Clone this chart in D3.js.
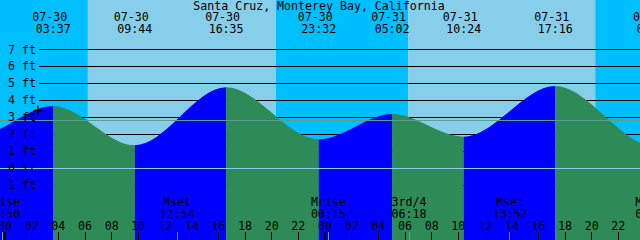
<!DOCTYPE html>
<meta charset="utf-8">
<title>Santa Cruz tides</title>
<style>

body {
  margin: 0;
  background: #fff;
}

svg {
  display: block;
  font: 11.6px "DejaVu Sans Mono", monospace;
}

.level line {
  stroke: #000;
  shape-rendering: crispEdges;
}

.hour line {
  stroke: #000;
  shape-rendering: crispEdges;
}

</style>
<body>
<script src="https://cdn.jsdelivr.net/npm/d3@7"></script>
<script>

var title = "Santa Cruz, Monterey Bay, California";

// tide extremes (two before and two after the visible window)
var tideTimes = ["07-29 15:50", "07-29 21:50", "07-30 03:37", "07-30 09:44", "07-30 16:35", "07-30 23:32",
                 "07-31 05:02", "07-31 10:24", "07-31 17:16", "08-01 00:40", "08-01 06:30"];
var tideHeights = [4.7, 1.9, 3.66, 1.34, 4.76, 1.69, 3.18, 1.85, 4.83, 1.3, 3.3];

// sunrise, sunset, sunrise, sunset
var sunTimes = ["07-30 06:13", "07-30 20:18", "07-31 06:14", "07-31 20:16"];

var moonNames = ["Mrise", "Mset", "Mrise", "3rd/4", "Mset", "Mrise"];
var moonTimes = ["07-29 23:50", "07-30 12:54", "07-31 00:15", "07-31 06:18", "07-31 13:52", "08-01 00:35"];

var levels = [-1, 0, 1, 2, 3, 4, 5, 6, 7];
var meanLevel = 2.81;

var nowMark = {time: "07-30 02:28", height: 3.39};

var width = 640,
    height = 240;

var parse = d3.utcParse("%m-%d %H:%M"),
    fmtDate = d3.utcFormat("%m-%d"),
    fmtTime = d3.utcFormat("%H:%M");

var day0 = parse("07-30 00:00");

var x = d3.scaleUtc()
    .domain([new Date(+day0 - 22.5 * 60000), new Date(+day0 + (48 - 0.375) * 3600000)])
    .range([0, width]);

var y = d3.scaleLinear()
    .domain([0, 7])
    .range([168, 49.3]);

var svg = d3.select("body").append("svg")
    .attr("width", width)
    .attr("height", height);

// sky: night before first sunrise, then alternate
var sun = sunTimes.map(parse);
var edges = [x.domain()[0]].concat(sun, [x.domain()[1]]);
svg.append("g").selectAll("rect")
    .data(d3.pairs(edges))
  .enter().append("rect")
    .attr("x", function(d) { return x(d[0]); })
    .attr("width", function(d) { return x(d[1]) - x(d[0]); })
    .attr("y", 0)
    .attr("height", height)
    .attr("fill", function(d, i) { return i % 2 ? "#87ceeb" : "#00bfff"; });

// foot lines sit behind the water
svg.append("g")
    .attr("class", "level")
  .selectAll("line")
    .data(levels)
  .enter().append("line")
    .attr("x1", 39)
    .attr("x2", width)
    .attr("y1", function(d) { return Math.round(y(d)) + 0.5; })
    .attr("y2", function(d) { return Math.round(y(d)) + 0.5; });

// water
var tide = tideTimes.map(function(t, i) { return {t: parse(t), h: tideHeights[i]}; });

var area = d3.area()
    .x(function(d) { return x(d.t); })
    .y0(height)
    .y1(function(d) { return y(d.h); })
    .curve(d3.curveMonotoneX);

svg.append("clipPath")
    .attr("id", "water")
  .append("path")
    .attr("d", area(tide));

svg.append("g")
    .attr("clip-path", "url(#water)")
  .selectAll("rect")
    .data(d3.pairs(tide))
  .enter().append("rect")
    .attr("x", function(d) { return x(d[0].t); })
    .attr("width", function(d) { return x(d[1].t) - x(d[0].t); })
    .attr("y", 0)
    .attr("height", height)
    .attr("fill", function(d) { return d[1].h > d[0].h ? "#0000ff" : "#2e8b57"; });

// mean level and datum
svg.append("line")
    .attr("x1", 0).attr("x2", width)
    .attr("y1", Math.round(y(meanLevel)) + 0.5)
    .attr("y2", Math.round(y(meanLevel)) + 0.5)
    .attr("stroke", "#5aa08e")
    .attr("shape-rendering", "crispEdges");

svg.append("line")
    .attr("x1", 0).attr("x2", width)
    .attr("y1", Math.round(y(0)) + 0.5)
    .attr("y2", Math.round(y(0)) + 0.5)
    .attr("stroke", "#87ceeb")
    .attr("shape-rendering", "crispEdges");

// level labels
svg.append("g").selectAll("text")
    .data(levels)
  .enter().append("text")
    .attr("x", 36)
    .attr("y", function(d) { return y(d) + 4.2; })
    .attr("text-anchor", "end")
    .text(function(d) { return d + " ft"; });

// title and tide extreme labels
svg.append("text")
    .attr("x", 319)
    .attr("y", 9.5)
    .attr("text-anchor", "middle")
    .text(title);

var peaks = svg.append("g").selectAll("g")
    .data(tide)
  .enter().append("g")
    .attr("text-anchor", "middle")
    .attr("transform", function(d) { return "translate(" + x(d.t) + ",0)"; });

peaks.append("text")
    .attr("x", -3.5)
    .attr("y", 21)
    .text(function(d) { return fmtDate(d.t); });

peaks.append("text")
    .attr("y", 33.3)
    .text(function(d) { return fmtTime(d.t); });

// moon events
var moon = svg.append("g").selectAll("g")
    .data(moonTimes.map(function(t, i) { return {t: parse(t), name: moonNames[i]}; }))
  .enter().append("g")
    .attr("text-anchor", "middle")
    .attr("transform", function(d) { return "translate(" + x(d.t) + ",0)"; });

moon.append("line")
    .attr("y1", 232)
    .attr("y2", height)
    .attr("stroke", "#6d9aa8")
    .attr("shape-rendering", "crispEdges");

moon.append("text")
    .attr("y", 206)
    .text(function(d) { return d.name; });

moon.append("text")
    .attr("y", 217.5)
    .text(function(d) { return fmtTime(d.t); });

// hour axis
var hours = svg.append("g")
    .attr("class", "hour")
  .selectAll("g")
    .data(x.ticks(d3.utcHour.every(2)))
  .enter().append("g")
    .attr("text-anchor", "middle")
    .attr("transform", function(d) { return "translate(" + x(d) + ",0)"; });

hours.append("line")
    .attr("y1", 232)
    .attr("y2", height)
    .attr("stroke-width", function(d) { return d.getUTCHours() === 0 ? 2.5 : 1; });

hours.append("text")
    .attr("y", 230)
    .text(d3.utcFormat("%H"));

// present moment
var nx = x(parse(nowMark.time)),
    ny = y(nowMark.height);

svg.append("path")
    .attr("d", "M" + (nx - 4.5) + "," + ny + "h9M" + nx + "," + (ny - 4.5) + "v9")
    .attr("stroke", "#000")
    .attr("stroke-width", 1.5)
    .attr("fill", "none");

</script>
